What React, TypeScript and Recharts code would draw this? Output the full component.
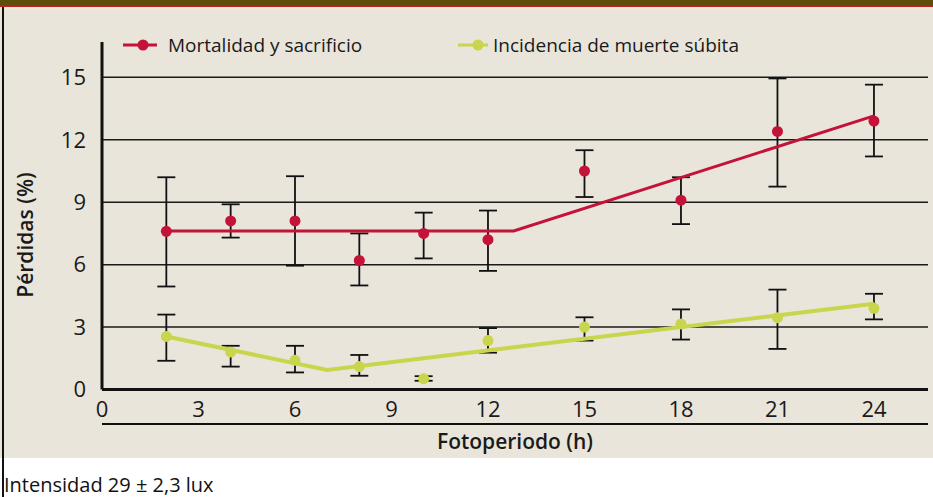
import React from 'react';
import { ComposedChart, Scatter, ErrorBar, XAxis, YAxis, CartesianGrid } from 'recharts';

// Fotoperiodo (h)
const hours = [2, 4, 6, 8, 10, 12, 15, 18, 21, 24];
// Mortalidad y sacrificio (%) : mean, lower bound, upper bound
const mortMean = [7.6, 8.1, 8.1, 6.2, 7.5, 7.2, 10.5, 9.1, 12.4, 12.9];
const mortLow = [4.95, 7.3, 5.95, 5.0, 6.3, 5.7, 9.25, 7.95, 9.75, 11.2];
const mortHigh = [10.2, 8.9, 10.25, 7.5, 8.5, 8.6, 11.5, 10.2, 14.95, 14.65];
// Incidencia de muerte súbita (%)
const incMean = [2.55, 1.8, 1.4, 1.1, 0.52, 2.35, 3.0, 3.15, 3.45, 3.9];
const incLow = [1.38, 1.1, 0.82, 0.66, 0.42, 1.77, 2.35, 2.4, 1.95, 3.37];
const incHigh = [3.6, 2.1, 2.1, 1.66, 0.64, 2.95, 3.47, 3.85, 4.8, 4.6];
// Fitted segmented lines
const mortFitX = [2, 12.8, 24];
const mortFitY = [7.62, 7.62, 13.15];
const incFitX = [2, 7, 24];
const incFitY = [2.55, 0.94, 4.12];

const xTicks = [0, 3, 6, 9, 12, 15, 18, 21, 24];
const yTicks = [0, 3, 6, 9, 12, 15];

const RED = '#c41238';
const GREEN = '#c9d54c';
const FONT = '"Open Sans", "Noto Sans", sans-serif';

const mortData = hours.map((h, i) => ({ x: h, y: mortMean[i], err: [mortMean[i] - mortLow[i], mortHigh[i] - mortMean[i]] }));
const incData = hours.map((h, i) => ({ x: h, y: incMean[i], err: [incMean[i] - incLow[i], incHigh[i] - incMean[i]] }));
const mortFit = mortFitX.map((x, i) => ({ x, y: mortFitY[i] }));
const incFit = incFitX.map((x, i) => ({ x, y: incFitY[i] }));

const Empty = () => <g />;

const Dot = (color: string, r: number) => (props: any) => {
  const { cx, cy } = props;
  if (cx == null || cy == null) return <g />;
  return <circle cx={cx} cy={cy} r={r} fill={color} />;
};

export default function App() {
  return (
    <div style={{ position: 'absolute', left: 0, top: 0, width: 933, height: 497, background: '#ffffff', fontFamily: FONT, overflow: 'hidden' }}>
      <div style={{ position: 'absolute', left: 0, top: 0, width: 933, height: 458, background: '#e9e5db' }} />
      <div style={{ position: 'absolute', left: 0, top: 0, width: 933, height: 5, background: '#5e4e0a' }} />
      <div style={{ position: 'absolute', left: 0, top: 5, width: 933, height: 2, background: '#b8202a' }} />
      <div style={{ position: 'absolute', left: 0, top: 7, width: 933, height: 3, background: '#f3ead6' }} />
      <div style={{ position: 'absolute', left: 2, top: 7, width: 2, height: 490, background: '#111' }} />
      <div style={{ position: 'absolute', left: 102, top: 423, width: 826, height: 1.5, background: '#111' }} />

      {/* Legend */}
      <div style={{ position: 'absolute', left: 123, top: 33, height: 24, display: 'flex', alignItems: 'center', fontSize: 19, color: '#1a1a1a' }}>
        <svg width={34} height={14} style={{ marginRight: 11 }}>
          <line x1={0} y1={7} x2={34} y2={7} stroke={RED} strokeWidth={3} />
          <circle cx={20} cy={7} r={5.5} fill={RED} />
        </svg>
        <span>Mortalidad y sacrificio</span>
      </div>
      <div style={{ position: 'absolute', left: 458, top: 33, height: 24, display: 'flex', alignItems: 'center', fontSize: 19, color: '#1a1a1a' }}>
        <svg width={34} height={14} style={{ marginRight: 1 }}>
          <line x1={0} y1={7} x2={30} y2={7} stroke={GREEN} strokeWidth={3} />
          <circle cx={20} cy={7} r={5.5} fill={GREEN} />
        </svg>
        <span>Incidencia de muerte súbita</span>
      </div>

      <div style={{ position: 'absolute', left: 0, top: 0 }}>
        <ComposedChart width={933} height={460} margin={{ top: 42, right: 5, bottom: 30.5, left: 22 }}>
          <CartesianGrid vertical={false} stroke="#1a1a1a" strokeWidth={1.5} horizontalValues={[3, 6, 9, 12, 15]} />
          <XAxis
            type="number"
            dataKey="x"
            domain={[0, 25.68]}
            ticks={xTicks}
            allowDataOverflow
            axisLine={{ stroke: '#111', strokeWidth: 3 }}
            tickLine={false}
            tick={{ fill: '#1a1a1a', fontSize: 22, fontFamily: FONT }}
            tickMargin={6}
            height={40}
          />
          <YAxis
            type="number"
            dataKey="y"
            domain={[0, 16.7]}
            ticks={yTicks}
            allowDataOverflow
            axisLine={{ stroke: '#111', strokeWidth: 3 }}
            tickLine={false}
            tick={{ fill: '#1a1a1a', fontSize: 22, fontFamily: FONT }}
            tickMargin={10}
            width={80}
          />
          <Scatter data={mortFit} line={{ stroke: RED, strokeWidth: 3 }} lineType="joint" shape={Empty} isAnimationActive={false} />
          <Scatter data={incFit} line={{ stroke: GREEN, strokeWidth: 4 }} lineType="joint" shape={Empty} isAnimationActive={false} />
          <Scatter data={mortData} shape={Dot(RED, 5.5)} isAnimationActive={false}>
            <ErrorBar dataKey="err" direction="y" width={9} stroke="#111" strokeWidth={1.8} isAnimationActive={false} />
          </Scatter>
          <Scatter data={incData} shape={Dot(GREEN, 5.5)} isAnimationActive={false}>
            <ErrorBar dataKey="err" direction="y" width={9} stroke="#111" strokeWidth={1.8} isAnimationActive={false} />
          </Scatter>
        </ComposedChart>
      </div>

      {/* Axis titles */}
      <div style={{ position: 'absolute', left: 0, top: 428, width: 1030, textAlign: 'center', fontSize: 21, fontWeight: 600, color: '#1a1a1a', lineHeight: '26px' }}>Fotoperiodo (h)</div>
      <div style={{ position: 'absolute', left: 25, top: 235, width: 0, height: 0 }}>
        <div style={{ position: 'absolute', left: -100, top: -13, width: 200, textAlign: 'center', transform: 'rotate(-90deg)', fontSize: 21, fontWeight: 600, color: '#1a1a1a', lineHeight: '26px', whiteSpace: 'nowrap' }}>Pérdidas (%)</div>
      </div>

      <div style={{ position: 'absolute', left: 4, top: 472, fontSize: 20, color: '#111', lineHeight: '26px' }}>Intensidad 29 ± 2,3 lux</div>
    </div>
  );
}
